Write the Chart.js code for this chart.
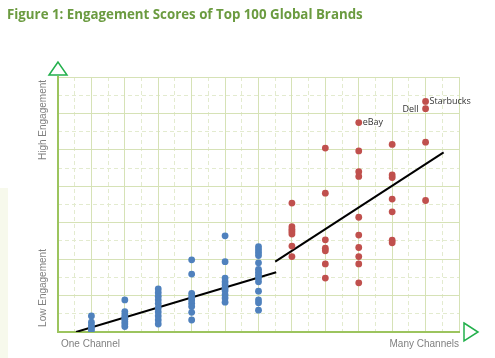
<!DOCTYPE html>
<html lang="en">
    <head>
        <meta charset="UTF-8">
        <meta name="viewport" content="width=device-width, initial-scale=1.0">
        <title>Engagement Scores of Top 100 Global Brands</title>
        <style>
            html, body { margin: 0; padding: 0; background: #fff; }
            #wrap { position: relative; width: 495px; height: 358px; }
            #strip { position: absolute; left: 0; top: 188px; width: 8px; height: 170px; background: #f7f9ec; }
            #myChart { position: absolute; left: 0; top: 0; }
        </style>
    </head>

    <script src="https://cdn.jsdelivr.net/npm/chart.js"></script>

    <body>
        <div id="wrap"><div id="strip"></div><canvas id="myChart" width="495" height="358"></canvas></div>
    </body>

    <script>
        // number of channels used by each column of brands
        const blueChannels = [1, 2, 3, 4, 5, 6];
        const redChannels = [7, 8, 9, 10, 11];

        // engagement scores read per column
        const blueScores = [
            [0.44, 0.27, 0.18, 0.10, 0.04],
            [0.88, 0.56, 0.47, 0.40, 0.35, 0.28, 0.22, 0.15],
            [1.18, 1.08, 0.98, 0.88, 0.78, 0.66, 0.55, 0.44, 0.33, 0.22],
            [1.98, 1.59, 1.06, 0.97, 0.88, 0.79, 0.70, 0.54, 0.33],
            [2.64, 1.93, 1.48, 1.38, 1.29, 1.20, 1.13, 1.02, 0.93, 0.82],
            [2.34, 2.26, 2.18, 2.10, 1.90, 1.72, 1.64, 1.56, 1.48, 1.38, 1.12, 0.88, 0.80, 0.60]
        ];
        const redScores = [
            [3.54, 2.89, 2.82, 2.76, 2.69, 2.36, 2.07],
            [5.05, 3.81, 2.53, 2.30, 2.23, 1.87, 1.48],
            [5.75, 4.97, 4.40, 4.27, 3.15, 2.66, 2.32, 2.07, 1.87, 1.35],
            [5.15, 4.31, 4.24, 3.65, 3.30, 2.52, 2.45],
            [6.33, 6.13, 5.21, 3.61]
        ];

        // trend lines (start and end)
        const blueTrendX = [0.54, 6.53];
        const blueTrendY = [0, 1.64];
        const redTrendX = [6.5, 11.54];
        const redTrendY = [1.93, 4.93];

        // named brands
        const brandNames = ["Starbucks", "Dell", "eBay"];
        const brandX = [11, 11, 9];
        const brandY = [6.33, 6.13, 5.75];
        const brandSide = ["right", "left", "right"];

        const titleText = "Figure 1: Engagement Scores of Top 100 Global Brands";
        const axisTexts = { high: "High Engagement", low: "Low Engagement", one: "One Channel", many: "Many Channels" };

        function toPoints(channels, scores) {
            let pts = [];
            for (let i = 0; i < channels.length; i++) {
                for (let v of scores[i]) pts.push({ x: channels[i], y: v });
            }
            return pts;
        }
        function toLine(xs, ys) {
            return xs.map((x, i) => ({ x: x, y: ys[i] }));
        }

        const axisGreen = "#9cc45e";
        const majorGrid = "#d6e2b6";
        const minorGrid = "#e3ebcf";

        // texts, arrows and labels drawn over the chart
        const decorations = {
            id: "decorations",
            afterDraw(chart) {
                const ctx = chart.ctx;
                const a = chart.chartArea;
                const xs = chart.scales.x, ys = chart.scales.y;
                ctx.save();

                // title
                ctx.fillStyle = "#6b9b40";
                ctx.font = "bold 13.3px 'Open Sans'";
                ctx.textBaseline = "middle";
                ctx.textAlign = "left";
                ctx.fillText(titleText, 7, 15);

                // arrows
                ctx.strokeStyle = "#22b04c";
                ctx.fillStyle = "#fff";
                ctx.lineWidth = 1.5;
                ctx.beginPath();
                ctx.moveTo(a.left, a.top - 15);
                ctx.lineTo(a.left - 9, a.top - 2);
                ctx.lineTo(a.left + 9, a.top - 2);
                ctx.closePath();
                ctx.fill();
                ctx.stroke();
                ctx.beginPath();
                ctx.moveTo(a.right + 5, a.bottom - 9);
                ctx.lineTo(a.right + 19, a.bottom);
                ctx.lineTo(a.right + 5, a.bottom + 9);
                ctx.closePath();
                ctx.fill();
                ctx.stroke();

                // axis texts
                ctx.fillStyle = "#808080";
                ctx.font = "10px 'Liberation Sans'";
                ctx.textAlign = "left";
                ctx.fillText(axisTexts.one, a.left + 3, a.bottom + 12);
                ctx.textAlign = "right";
                ctx.fillText(axisTexts.many, a.right, a.bottom + 12);
                ctx.textAlign = "center";
                ctx.save();
                ctx.translate(a.left - 15, 120);
                ctx.rotate(-Math.PI / 2);
                ctx.fillText(axisTexts.high, 0, 0);
                ctx.restore();
                ctx.save();
                ctx.translate(a.left - 15, 288);
                ctx.rotate(-Math.PI / 2);
                ctx.fillText(axisTexts.low, 0, 0);
                ctx.restore();

                // brand names
                ctx.fillStyle = "#333";
                ctx.font = "9px 'Open Sans'";
                for (let i = 0; i < brandNames.length; i++) {
                    const px = xs.getPixelForValue(brandX[i]);
                    const py = ys.getPixelForValue(brandY[i]);
                    if (brandSide[i] == "right") {
                        ctx.textAlign = "left";
                        ctx.fillText(brandNames[i], px + 4, py);
                    } else {
                        ctx.textAlign = "right";
                        ctx.fillText(brandNames[i], px - 7, py + 1);
                    }
                }
                ctx.restore();
            }
        };

        const ctx = document.getElementById("myChart").getContext("2d");
        const myChart = new Chart(ctx, {
            type: "scatter",
            data: {
                datasets: [
                    {
                        data: toPoints(redChannels, redScores),
                        backgroundColor: "#c0504d",
                        borderWidth: 0,
                        pointRadius: 3.4
                    },
                    {
                        data: toPoints(blueChannels, blueScores),
                        backgroundColor: "#4f81bd",
                        borderWidth: 0,
                        pointRadius: 3.4
                    },
                    {
                        type: "line",
                        data: toLine(blueTrendX, blueTrendY),
                        borderColor: "#000",
                        borderWidth: 2,
                        pointRadius: 0
                    },
                    {
                        type: "line",
                        data: toLine(redTrendX, redTrendY),
                        borderColor: "#000",
                        borderWidth: 2,
                        pointRadius: 0
                    }
                ]
            },
            options: {
                responsive: false,
                animation: false,
                layout: { padding: { left: 58, top: 77, right: 36, bottom: 26 } },
                plugins: {
                    legend: { display: false },
                    tooltip: { enabled: false }
                },
                scales: {
                    x2: {
                        type: "linear", position: "bottom", min: 0, max: 12, z: -1,
                        ticks: { display: false, stepSize: 0.5 },
                        grid: { drawTicks: false, color: c => (c.tick.value % 1 === 0 ? "rgba(0,0,0,0)" : minorGrid) },
                        border: { display: false, dash: [4, 3] }
                    },
                    y2: {
                        type: "linear", position: "left", min: 0, max: 7, z: -1,
                        ticks: { display: false, stepSize: 0.5 },
                        grid: { drawTicks: false, color: c => (c.tick.value % 1 === 0 ? "rgba(0,0,0,0)" : minorGrid) },
                        border: { display: false, dash: [4, 3] }
                    },
                    x: {
                        type: "linear", position: "bottom", min: 0, max: 12,
                        ticks: { display: false, stepSize: 1 },
                        grid: { drawTicks: false, color: majorGrid },
                        border: { color: axisGreen, width: 2 }
                    },
                    y: {
                        type: "linear", position: "left", min: 0, max: 7,
                        ticks: { display: false, stepSize: 1 },
                        grid: { drawTicks: false, color: majorGrid },
                        border: { color: axisGreen, width: 2 }
                    }
                }
            },
            plugins: [decorations]
        });
    </script>
</html>
